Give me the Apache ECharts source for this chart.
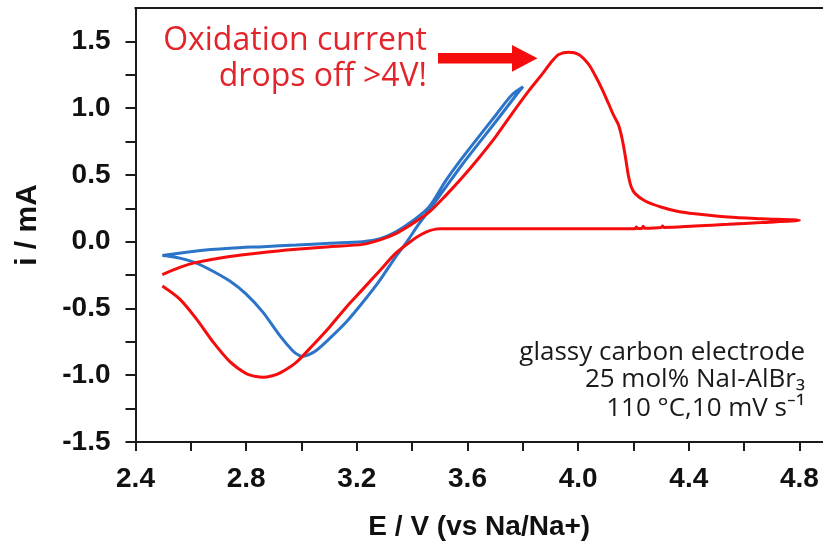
<!DOCTYPE html>
<html>
<head>
<meta charset="utf-8">
<script src="https://cdn.jsdelivr.net/npm/echarts@6/dist/echarts.min.js"></script>
<style>
html,body{margin:0;padding:0;background:#fff;}
#chart{width:823px;height:546px;}
</style>
</head>
<body>
<div id="chart"></div>
<script>
// ---- data ----
const redE = [2.497, 2.560, 2.620, 2.741, 2.861, 2.981, 3.101, 3.221, 3.281, 3.341, 3.401, 3.461, 3.521, 3.581, 3.641, 3.702, 3.761, 3.822, 3.870, 3.906, 3.930, 3.966, 4.002, 4.038, 4.062, 4.086, 4.110, 4.128, 4.146, 4.160, 4.172, 4.182, 4.192, 4.206, 4.242, 4.302, 4.362, 4.422, 4.542, 4.662, 4.800,
  4.662, 4.542, 4.422, 4.310, 4.305, 4.300, 4.240, 4.235, 4.230, 4.215, 4.210, 4.205, 4.000, 3.800, 3.600, 3.530, 3.500, 3.485, 3.461, 3.431, 3.401, 3.341, 3.281, 3.221, 3.161, 3.101, 3.041, 2.981, 2.921, 2.891, 2.861, 2.831, 2.801, 2.741, 2.680, 2.620, 2.560, 2.497];
const redI = [-0.246, -0.192, -0.155, -0.111, -0.081, -0.057, -0.037, -0.020, 0.012, 0.061, 0.135, 0.221, 0.345, 0.480, 0.627, 0.787, 0.959, 1.131, 1.255, 1.353, 1.402, 1.419, 1.402, 1.328, 1.242, 1.144, 1.033, 0.947, 0.873, 0.760, 0.620, 0.490, 0.410, 0.360, 0.305, 0.258, 0.226, 0.209, 0.185, 0.172, 0.160,
  0.143, 0.130, 0.118, 0.107, 0.118, 0.106, 0.100, 0.116, 0.099, 0.099, 0.110, 0.097, 0.096, 0.096, 0.097, 0.097, 0.097, 0.094, 0.081, 0.052, 0.012, -0.086, -0.221, -0.357, -0.492, -0.640, -0.775, -0.903, -0.984, -1.006, -1.016, -1.008, -0.989, -0.898, -0.750, -0.578, -0.430, -0.332];

const blueE = [2.497, 2.620, 2.741, 2.861, 2.981, 3.101, 3.221, 3.281, 3.341, 3.401, 3.461, 3.521, 3.581, 3.641, 3.702, 3.761, 3.801,
  3.786, 3.702, 3.641, 3.581, 3.521, 3.461, 3.425, 3.377, 3.341, 3.281, 3.221, 3.161, 3.101, 3.053, 3.025, 3.005, 2.990, 2.969, 2.921, 2.861, 2.801, 2.741, 2.680, 2.620, 2.560, 2.512, 2.497];
const blueI = [-0.103, -0.069, -0.049, -0.037, -0.025, -0.012, 0.000, 0.020, 0.074, 0.155, 0.260, 0.455, 0.627, 0.787, 0.947, 1.100, 1.160,
  1.125, 0.898, 0.738, 0.578, 0.406, 0.234, 0.135, -0.012, -0.111, -0.295, -0.455, -0.603, -0.726, -0.815, -0.848, -0.858, -0.850, -0.818, -0.701, -0.529, -0.394, -0.295, -0.221, -0.160, -0.123, -0.106, -0.103];

const xTickLabels = [2.4, 2.8, 3.2, 3.6, 4.0, 4.4, 4.8];
const xTicks = [2.4, 2.6, 2.8, 3.0, 3.2, 3.4, 3.6, 3.8, 4.0, 4.2, 4.4, 4.6, 4.8];
const yTickLabels = [-1.5, -1.0, -0.5, 0.0, 0.5, 1.0, 1.5];
const yTicks = [-1.5, -1.25, -1.0, -0.75, -0.5, -0.25, 0.0, 0.25, 0.5, 0.75, 1.0, 1.25, 1.5];

const xName = 'E / V (vs Na/Na+)';
const yName = 'i / mA';
const noteRed = ['Oxidation current', 'drops off >4V!'];
const noteBlack = ['glassy carbon electrode', '25 mol% NaI-AlBr\u2083', '110 \u00b0C,10 mV s\u207b\u00b9'];

// ---- chart ----
const zip = (a, b) => a.map((v, k) => [v, b[k]]);
const axisColor = '#1a1a1a';
const labelFont = { color: '#111', fontFamily: 'Liberation Sans, Arial, sans-serif', fontWeight: 'bold', fontSize: 28 };
const gridTop = 8;

const chart = echarts.init(document.getElementById('chart'), null, { renderer: 'canvas' });
chart.setOption({
  animation: false,
  backgroundColor: '#ffffff',
  grid: { left: 135.5, right: -2, top: gridTop, bottom: 98, containLabel: false },
  xAxis: {
    type: 'value', min: 2.4, max: 4.885, position: 'bottom',
    name: xName, nameLocation: 'middle', nameGap: 71,
    nameTextStyle: Object.assign({}, labelFont, { fontSize: 28 }),
    axisLine: { show: true, onZero: false, lineStyle: { color: axisColor, width: 2 } },
    axisTick: { show: true, inside: false, length: 9, lineStyle: { color: axisColor, width: 2 }, customValues: xTicks },
    axisLabel: Object.assign({ margin: 23, customValues: xTickLabels, formatter: v => Number(v).toFixed(1) }, labelFont),
    splitLine: { show: false }
  },
  yAxis: {
    type: 'value', min: -1.5, max: 1.75,
    name: yName, nameLocation: 'middle', nameGap: 93, nameRotate: 90,
    nameTextStyle: Object.assign({}, labelFont, { fontSize: 30 }),
    axisLine: { show: true, onZero: false, lineStyle: { color: axisColor, width: 2 } },
    axisTick: { show: true, inside: false, length: 10, lineStyle: { color: axisColor, width: 2 }, customValues: yTicks },
    axisLabel: Object.assign({ margin: 25, customValues: yTickLabels, formatter: v => Number(v).toFixed(1) }, labelFont),
    splitLine: { show: false }
  },
  series: [{
    type: 'line', name: 'blue', data: zip(blueE, blueI), showSymbol: false, smooth: 0.3,
    lineStyle: { color: '#2b74c7', width: 3 }, z: 3
  }, {
    type: 'line', name: 'red', data: zip(redE, redI), showSymbol: false, smooth: 0.3,
    lineStyle: { color: '#f50d0d', width: 3 }, z: 4
  }],
  graphic: [
    { type: 'line', shape: { x1: 134.5, y1: gridTop, x2: 823, y2: gridTop }, style: { stroke: axisColor, lineWidth: 2 }, z: 20 },
    { type: 'polygon', shape: { points: [[438, 53], [512, 53], [512, 45], [537.5, 58.3], [512, 71.7], [512, 63.5], [438, 63.5]] }, style: { fill: '#f50d0d' }, z: 10 },
    { type: 'text', x: 427, y: 41, style: { text: noteRed[0], fill: '#e2242b', font: '32px "Open Sans", sans-serif', align: 'right', verticalAlign: 'middle' }, z: 10 },
    { type: 'text', x: 427, y: 77, style: { text: noteRed[1], fill: '#e2242b', font: '32px "Open Sans", sans-serif', align: 'right', verticalAlign: 'middle' }, z: 10 },
    { type: 'text', x: 805, y: 353, style: { text: noteBlack[0], fill: '#1a1a1a', font: '26px "Open Sans", sans-serif', align: 'right', verticalAlign: 'middle' }, z: 10 },
    { type: 'text', x: 805, y: 379.5, style: { text: noteBlack[1], fill: '#1a1a1a', font: '26px "Open Sans", sans-serif', align: 'right', verticalAlign: 'middle' }, z: 10 },
    { type: 'text', x: 805, y: 408.5, style: { text: noteBlack[2], fill: '#1a1a1a', font: '26px "Open Sans", sans-serif', align: 'right', verticalAlign: 'middle' }, z: 10 }
  ]
});
</script>
</body>
</html>
